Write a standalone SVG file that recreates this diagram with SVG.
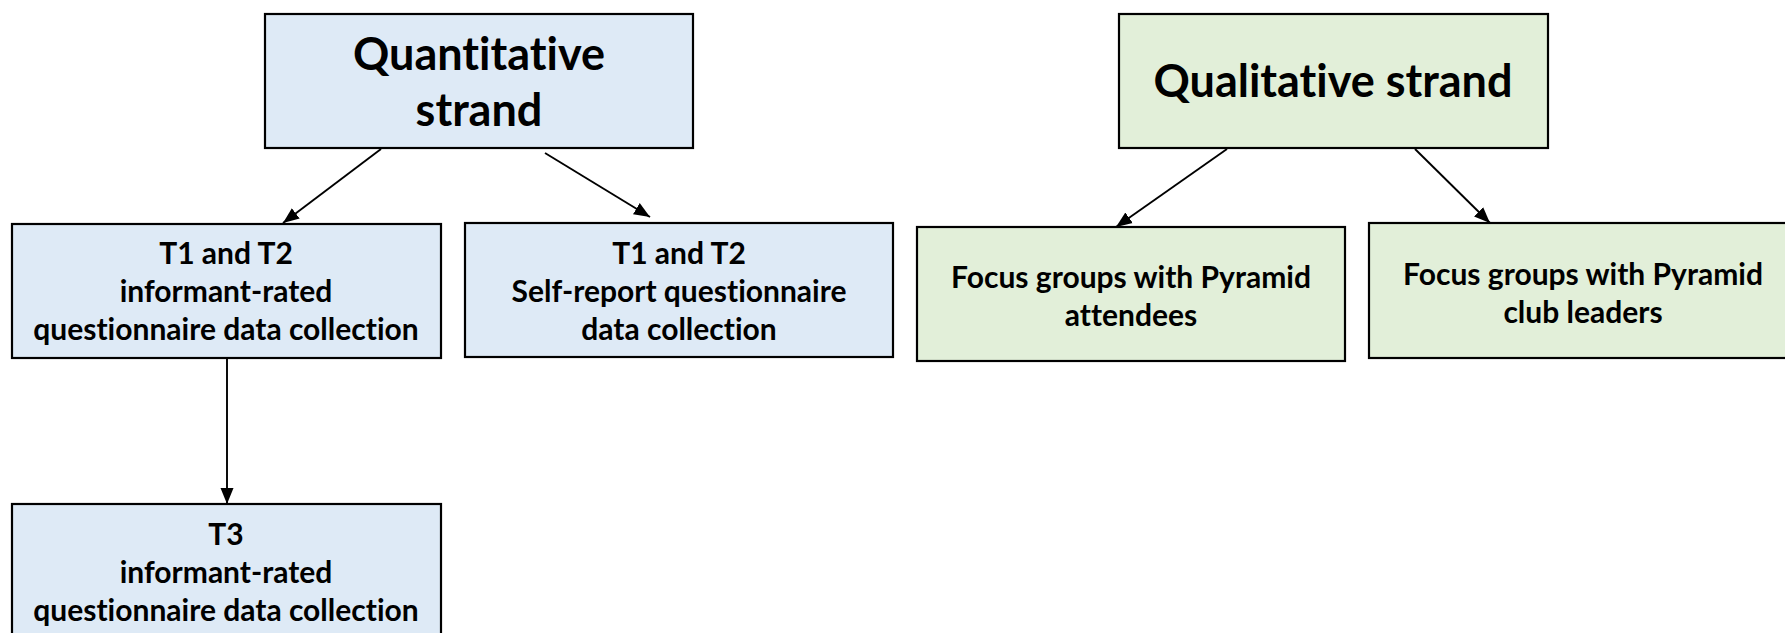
<svg xmlns="http://www.w3.org/2000/svg" width="1785" height="633" viewBox="0 0 1785 633">
<style>
.q{fill:#DEEAF6;stroke:#000;stroke-width:2.2}
.g{fill:#E2EFD9;stroke:#000;stroke-width:2.2}
text{font-family:Lato,"Open Sans","Liberation Sans",sans-serif;font-weight:bold;fill:#000;text-anchor:middle;font-variant-ligatures:none;font-feature-settings:"liga" 0}
.t{font-size:45px}
.s{font-size:30px}
.c{stroke:#000;stroke-width:1.9;fill:none;marker-end:url(#ah)}
</style>
<defs>
<marker id="ah" markerUnits="userSpaceOnUse" markerWidth="18" markerHeight="14" refX="16" refY="7" orient="auto">
<path d="M0,0.5 L16,7 L0,13.5 z" fill="#000"/>
</marker>
</defs>
<rect width="1785" height="633" fill="#fff"/>
<g id="connectors">
<line class="c" x1="381" y1="149" x2="283" y2="223"/>
<line class="c" x1="545" y1="153" x2="650" y2="217"/>
<line class="c" x1="227" y1="358" x2="227" y2="504"/>
<line class="c" x1="1227" y1="149" x2="1116" y2="227"/>
<line class="c" x1="1415" y1="149" x2="1490" y2="223"/>
</g>
<g id="quant">
<rect class="q" x="265" y="14" width="428" height="134"/>
<text class="t" x="479" y="70">Quantitative</text>
<text class="t" x="479" y="126">strand</text>
</g>
<g id="qual">
<rect class="g" x="1119" y="14" width="429" height="134"/>
<text class="t" x="1333" y="97">Qualitative strand</text>
</g>
<g id="t12informant">
<rect class="q" x="12" y="224" width="429" height="134"/>
<text class="s" x="226" y="264">T1 and T2</text>
<text class="s" x="226" y="302">informant-rated</text>
<text class="s" x="226" y="340">questionnaire data collection</text>
</g>
<g id="t12self">
<rect class="q" x="465" y="223" width="428" height="134"/>
<text class="s" x="679" y="264">T1 and T2</text>
<text class="s" x="679" y="302">Self-report questionnaire</text>
<text class="s" x="679" y="340">data collection</text>
</g>
<g id="t3informant">
<rect class="q" x="12" y="504" width="429" height="140"/>
<text class="s" x="226" y="545">T3</text>
<text class="s" x="226" y="583">informant-rated</text>
<text class="s" x="226" y="621">questionnaire data collection</text>
</g>
<g id="attendees">
<rect class="g" x="917" y="227" width="428" height="134"/>
<text class="s" x="1131" y="288">Focus groups with Pyramid</text>
<text class="s" x="1131" y="326">attendees</text>
</g>
<g id="leaders">
<rect class="g" x="1369" y="223" width="430" height="135"/>
<text class="s" x="1583" y="285">Focus groups with Pyramid</text>
<text class="s" x="1583" y="323">club leaders</text>
</g>
</svg>
